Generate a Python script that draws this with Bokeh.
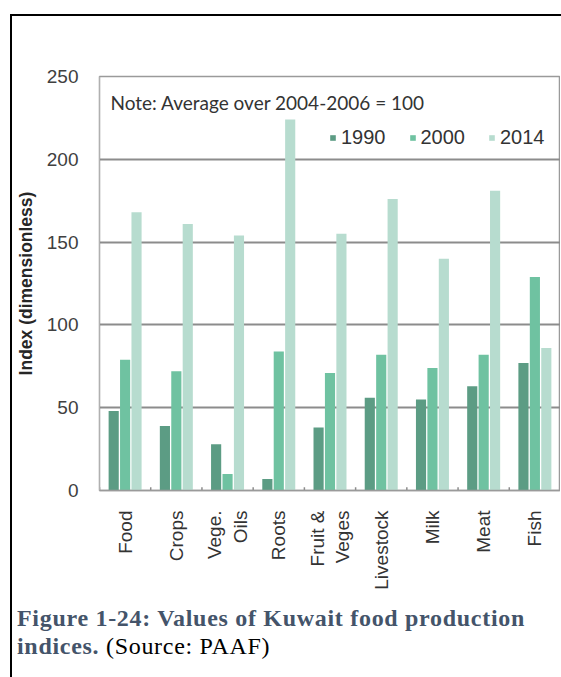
import math
from bokeh.plotting import figure
from bokeh.models import ColumnDataSource, Label, FixedTicker, Div
from bokeh.layouts import column
from bokeh.transform import dodge
from bokeh.embed import file_html
from bokeh.resources import INLINE

categories = ["Food", "Crops", "Vege.\nOils", "Roots", "Fruit &\nVeges",
              "Livestock", "Milk", "Meat", "Fish"]
v1990 = [48, 39, 28, 7, 38, 56, 55, 63, 77]
v2000 = [79, 72, 10, 84, 71, 82, 74, 82, 129]
v2014 = [168, 161, 154, 224, 155, 176, 140, 181, 86]
series = ["1990", "2000", "2014"]
colors = ["#5c9c84", "#6fc2a1", "#b7dccf"]
y_ticks = [0, 50, 100, 150, 200, 250]
note = "Note: Average over 2004-2006 = 100"
caption_bold_1 = "Figure 1-24: Values of Kuwait food production"
caption_bold_2 = "indices."
caption_plain = "(Source: PAAF)"

src = ColumnDataSource(dict(cat=categories, y1990=v1990, y2000=v2000, y2014=v2014,
                            zero=[0] * len(categories), tick=[2] * len(categories)))

p = figure(x_range=categories, y_range=(0, 250), width=548, height=583,
           output_backend="svg", toolbar_location=None,
           min_border_left=86, min_border_right=0, min_border_top=60,
           min_border_bottom=109)

offsets = [-0.223, 0.0, 0.223]
cols = ["y1990", "y2000", "y2014"]
for off, col, c, s in zip(offsets, cols, colors, series):
    p.vbar(x=dodge("cat", off, range=p.x_range), top=col, width=0.198,
           source=src, fill_color=c, line_color=None, legend_label=s)

# small ticks at category boundaries
p.segment(x0=dodge("cat", -0.5, range=p.x_range), y0="zero",
          x1=dodge("cat", -0.5, range=p.x_range), y1="tick",
          source=src, line_color="#8c8c8c", line_width=1.5)

p.xgrid.grid_line_color = None
p.ygrid.grid_line_color = "#8c8c8c"
p.ygrid.grid_line_width = 2
p.yaxis.ticker = FixedTicker(ticks=y_ticks)

p.outline_line_color = "#9a9a9a"
p.outline_line_width = 1.5

p.yaxis.axis_label = "Index (dimensionless)"
p.yaxis.axis_label_text_font = "Liberation Sans"
p.yaxis.axis_label_text_font_style = "bold"
p.yaxis.axis_label_text_font_size = "17.5px"
p.yaxis.axis_label_text_color = "#262626"
p.yaxis.axis_label_standoff = 8
p.yaxis.major_label_text_font = "Liberation Sans"
p.yaxis.major_label_text_font_size = "19px"
p.yaxis.major_label_text_color = "#404040"
p.yaxis.major_label_standoff = 15
p.yaxis.major_tick_line_color = None
p.yaxis.minor_tick_line_color = None
p.yaxis.axis_line_color = "#b0b0b0"

p.xaxis.major_label_orientation = math.pi / 2
p.xaxis.major_label_text_font = "Liberation Sans"
p.xaxis.major_label_text_font_size = "19px"
p.xaxis.major_label_text_color = "#333333"
p.xaxis.major_label_standoff = 14
p.xaxis.major_tick_line_color = None
p.xaxis.axis_line_color = "#9a9a9a"
p.xaxis.axis_line_width = 1.5

leg = p.legend[0]
leg.orientation = "horizontal"
leg.location = (230, 341)
leg.padding = 0
leg.margin = 0
leg.spacing = 23
leg.glyph_width = 7
leg.glyph_height = 7
leg.label_standoff = 5
leg.label_height = 20
leg.label_text_font = "Liberation Sans"
leg.label_text_font_size = "20px"
leg.label_text_color = "#333333"
leg.border_line_color = None
leg.background_fill_alpha = 0

p.add_layout(Label(x=11, y=388, x_units="screen", y_units="screen", text=note,
                   text_font="Lato", text_font_size="19px", text_color="#333333",
                   text_baseline="alphabetic"))

cap_color = "#44546a"
caption = Div(
    text=(f'<b style="color:{cap_color}">{caption_bold_1}</b><br>'
          f'<b style="color:{cap_color}">{caption_bold_2}</b> {caption_plain}'),
    width=548, height=77,
    styles={"font-family": "'Liberation Serif', serif", "font-size": "24px",
            "letter-spacing": "0.7px", "line-height": "28px",
            "color": "#000000", "padding-left": "0px"})

layout = column(p, caption, spacing=0, margin=(14, 0, 0, 10),
                styles={"border-left": "2px solid black",
                        "border-top": "2px solid black"})

open("out.html", "w").write(file_html(layout, INLINE))
